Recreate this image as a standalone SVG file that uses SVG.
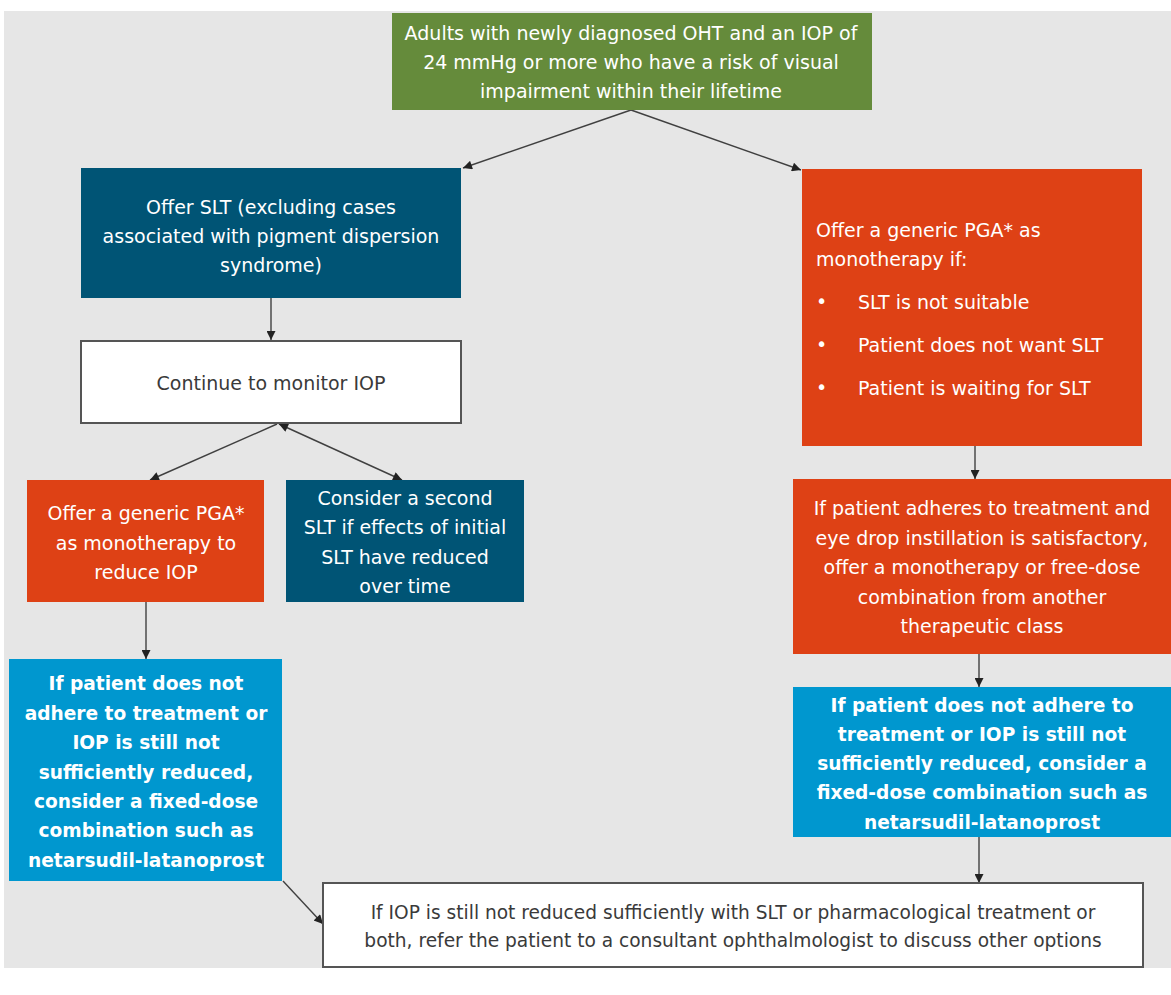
<svg xmlns="http://www.w3.org/2000/svg" width="1171" height="995" viewBox="0 0 1171 995">
<defs>
<marker id="ah" viewBox="0 0 10 10" refX="10" refY="5" markerWidth="11" markerHeight="9" markerUnits="userSpaceOnUse" orient="auto-start-reverse">
<path d="M0,0 L10,5 L0,10 Z" fill="#222"/>
</marker>
<style>
.t{font-family:"DejaVu Sans","Verdana",sans-serif;font-size:19px;fill:#fff;text-anchor:middle}
.b{font-family:"DejaVu Sans","Verdana",sans-serif;font-size:18.6px;font-weight:bold;fill:#fff;text-anchor:middle}
.g{fill:#3a3a3a}
.l{text-anchor:start}
.c{stroke:#404040;stroke-width:1.4;fill:none;marker-end:url(#ah)}
</style>
</defs>
<rect x="0" y="0" width="1171" height="995" fill="#fff"/>
<rect x="4" y="11" width="1167" height="957" fill="#e6e6e6"/>

<g id="connectors">
<line class="c" x1="631" y1="110" x2="463" y2="168"/>
<line class="c" x1="631" y1="110" x2="801" y2="170"/>
<line class="c" x1="271" y1="298" x2="271" y2="340"/>
<line class="c" x1="277" y1="424" x2="150" y2="480"/>
<line class="c" x1="279" y1="424" x2="402" y2="480" style="marker-start:url(#ah)"/>
<line class="c" x1="146" y1="602" x2="146" y2="659"/>
<line class="c" x1="975" y1="446" x2="975" y2="479"/>
<line class="c" x1="979" y1="654" x2="979" y2="687"/>
<line class="c" x1="979" y1="837" x2="979" y2="883"/>
<line class="c" x1="283" y1="881" x2="323" y2="924"/>
</g>

<g id="n1">
<rect x="392" y="13" width="480" height="97" fill="#658b3b"/>
<text class="t" x="631" y="40">Adults with newly diagnosed OHT and an IOP of</text>
<text class="t" x="631" y="69">24 mmHg or more who have a risk of visual</text>
<text class="t" x="631" y="98">impairment within their lifetime</text>
</g>

<g id="n2">
<rect x="81" y="168" width="380" height="130" fill="#005475"/>
<text class="t" x="271" y="214">Offer SLT (excluding cases</text>
<text class="t" x="271" y="243">associated with pigment dispersion</text>
<text class="t" x="271" y="272">syndrome)</text>
</g>

<g id="n3">
<rect x="81" y="341" width="380" height="82" fill="#fff" stroke="#555" stroke-width="2"/>
<text class="t g" x="271" y="390">Continue to monitor IOP</text>
</g>

<g id="n4">
<rect x="802" y="169" width="340" height="277" fill="#de4115"/>
<text class="t l" x="816" y="237">Offer a generic PGA* as</text>
<text class="t l" x="816" y="266">monotherapy if:</text>
<text class="t l" x="816" y="308">•</text>
<text class="t l" x="858" y="309">SLT is not suitable</text>
<text class="t l" x="816" y="351">•</text>
<text class="t l" x="858" y="352">Patient does not want SLT</text>
<text class="t l" x="816" y="394">•</text>
<text class="t l" x="858" y="395">Patient is waiting for SLT</text>
</g>

<g id="n5">
<rect x="27" y="480" width="237" height="122" fill="#de4115"/>
<text class="t" x="146" y="520">Offer a generic PGA*</text>
<text class="t" x="146" y="550">as monotherapy to</text>
<text class="t" x="146" y="579">reduce IOP</text>
</g>

<g id="n6">
<rect x="286" y="480" width="238" height="122" fill="#005475"/>
<text class="t" x="405" y="505">Consider a second</text>
<text class="t" x="405" y="534">SLT if effects of initial</text>
<text class="t" x="405" y="564">SLT have reduced</text>
<text class="t" x="405" y="593">over time</text>
</g>

<g id="n7">
<rect x="9" y="659" width="273" height="222" fill="#0097cf"/>
<text class="b" x="146" y="690">If patient does not</text>
<text class="b" x="146" y="720">adhere to treatment or</text>
<text class="b" x="146" y="749">IOP is still not</text>
<text class="b" x="146" y="779">sufficiently reduced,</text>
<text class="b" x="146" y="808">consider a fixed-dose</text>
<text class="b" x="146" y="837">combination such as</text>
<text class="b" x="146" y="867">netarsudil-latanoprost</text>
</g>

<g id="n8">
<rect x="793" y="479" width="378" height="175" fill="#de4115"/>
<text class="t" x="982" y="515">If patient adheres to treatment and</text>
<text class="t" x="982" y="545">eye drop instillation is satisfactory,</text>
<text class="t" x="982" y="574">offer a monotherapy or free-dose</text>
<text class="t" x="982" y="604">combination from another</text>
<text class="t" x="982" y="633">therapeutic class</text>
</g>

<g id="n9">
<rect x="793" y="687" width="378" height="150" fill="#0097cf"/>
<text class="b" x="982" y="712">If patient does not adhere to</text>
<text class="b" x="982" y="741">treatment or IOP is still not</text>
<text class="b" x="982" y="770">sufficiently reduced, consider a</text>
<text class="b" x="982" y="799">fixed-dose combination such as</text>
<text class="b" x="982" y="829">netarsudil-latanoprost</text>
</g>

<g id="n10">
<rect x="323" y="883" width="820" height="84" fill="#fff" stroke="#555" stroke-width="2"/>
<text class="t g" x="733" y="919" style="font-size:18.6px">If IOP is still not reduced sufficiently with SLT or pharmacological treatment or</text>
<text class="t g" x="733" y="947" style="font-size:18.6px">both, refer the patient to a consultant ophthalmologist to discuss other options</text>
</g>
</svg>
